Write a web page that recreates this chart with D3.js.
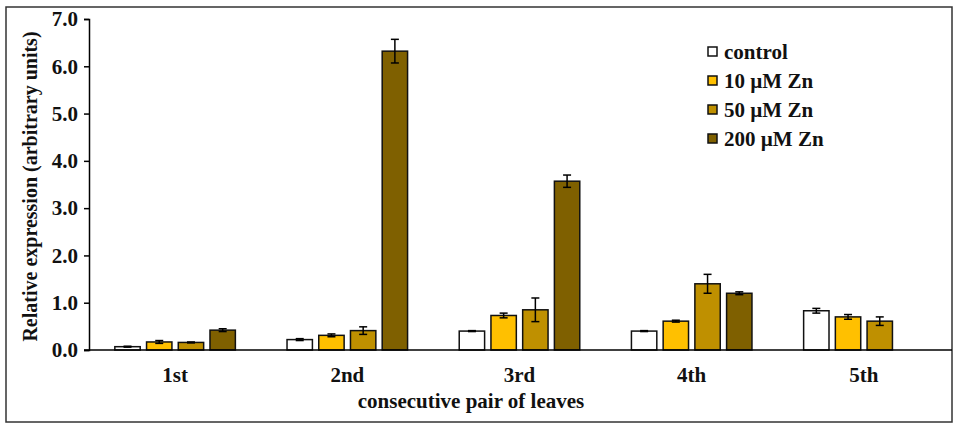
<!DOCTYPE html>
<html>
<head>
<meta charset="utf-8">
<style>
    body { margin: 0; background: #fff; }
    svg text { font-family: "Liberation Serif", "Times New Roman", serif; font-weight: bold; fill: #111; }
</style>
</head>
<body>
    <div class="graph"></div>

    <script src="https://d3js.org/d3.v7.min.js"></script>
    <script>
        // data
        var categories = ['1st', '2nd', '3rd', '4th', '5th']
        var series = ['control', '10 µM Zn', '50 µM Zn', '200 µM Zn']
        var colors = ['#ffffff', '#ffc000', '#bf9000', '#7f6000']

        var control = [0.07, 0.22, 0.40, 0.40, 0.83]
        var zn10 = [0.17, 0.31, 0.73, 0.61, 0.70]
        var zn50 = [0.16, 0.41, 0.85, 1.40, 0.61]
        var zn200 = [0.42, 6.32, 3.57, 1.20, null]

        var controlErr = [0.01, 0.02, 0.01, 0.01, 0.05]
        var zn10Err = [0.03, 0.03, 0.05, 0.02, 0.05]
        var zn50Err = [0.01, 0.08, 0.25, 0.20, 0.09]
        var zn200Err = [0.03, 0.25, 0.13, 0.03, null]

        var yTicks = [0, 1, 2, 3, 4, 5, 6, 7]

        var values = [control, zn10, zn50, zn200]
        var errors = [controlErr, zn10Err, zn50Err, zn200Err]

        var width = 957,
            height = 428

        var svg = d3.select('.graph').append('svg')
            .attr('width', width)
            .attr('height', height)

        // outer frame
        svg.append('rect')
            .attr('x', 6).attr('y', 7)
            .attr('width', 946).attr('height', 415)
            .style('fill', 'none')
            .style('stroke', '#333')
            .style('stroke-width', 1.5)

        var x0 = d3.scaleBand()
            .domain(categories)
            .range([89, 950])
            .paddingInner(0.3)
            .paddingOuter(0.15)

        var x1 = d3.scaleBand()
            .domain(series)
            .range([0, x0.bandwidth()])
            .paddingInner(0.2)

        var y = d3.scaleLinear()
            .domain([0, 7])
            .range([350, 19])

        var bars = []
        categories.forEach(function (c, i) {
            series.forEach(function (s, j) {
                if (values[j][i] == null) return
                bars.push({ cat: c, key: s, idx: j, v: values[j][i], e: errors[j][i] })
            })
        })

        // y axis
        var y_axis = svg.append('g')
            .attr('transform', 'translate(89,0)')
            .call(d3.axisLeft(y).tickValues(yTicks).tickSize(5).tickPadding(6)
                .tickFormat(d3.format('.1f')))
        y_axis.select('.domain').style('stroke', '#000').style('stroke-width', 1.5)
        y_axis.selectAll('.tick line').style('stroke', '#000').style('stroke-width', 1.5)
        y_axis.selectAll('text').style('font-size', '21px').style('fill', '#111')

        // bars
        svg.append('g').selectAll('rect')
            .data(bars)
            .join('rect')
            .attr('x', function (d) { return x0(d.cat) + x1(d.key) })
            .attr('y', function (d) { return y(d.v) })
            .attr('width', x1.bandwidth())
            .attr('height', function (d) { return y(0) - y(d.v) })
            .style('fill', function (d) { return colors[d.idx] })
            .style('stroke', '#111')
            .style('stroke-width', 1.5)

        // error bars
        var err = svg.append('g').selectAll('g')
            .data(bars)
            .join('g')
            .attr('transform', function (d) {
                return 'translate(' + (x0(d.cat) + x1(d.key) + x1.bandwidth() / 2) + ',0)'
            })
            .style('stroke', '#000')
            .style('stroke-width', 1.5)
        err.append('line')
            .attr('y1', function (d) { return y(d.v + d.e) })
            .attr('y2', function (d) { return y(d.v - d.e) })
        err.append('line')
            .attr('x1', -4).attr('x2', 4)
            .attr('y1', function (d) { return y(d.v + d.e) })
            .attr('y2', function (d) { return y(d.v + d.e) })
        err.append('line')
            .attr('x1', -4).attr('x2', 4)
            .attr('y1', function (d) { return y(d.v - d.e) })
            .attr('y2', function (d) { return y(d.v - d.e) })

        // x axis
        var x_axis = svg.append('g')
            .attr('transform', 'translate(0,' + y(0) + ')')
            .call(d3.axisBottom(x0).tickSize(0).tickPadding(17))
        x_axis.select('.domain').attr('d', 'M84,0H952').style('stroke', '#000').style('stroke-width', 1.5)
        x_axis.selectAll('text').style('font-size', '21px').style('fill', '#111')

        // axis titles
        svg.append('text')
            .attr('transform', 'translate(37,' + (y(3.5) + 2) + ') rotate(-90)')
            .attr('text-anchor', 'middle')
            .style('font-size', '20px')
            .text('Relative expression (arbitrary units)')

        svg.append('text')
            .attr('x', 471)
            .attr('y', 408)
            .attr('text-anchor', 'middle')
            .style('font-size', '21px')
            .text('consecutive pair of leaves')

        // legend
        var legend = svg.append('g')
            .selectAll('g')
            .data(series)
            .join('g')
            .attr('transform', function (d, i) { return 'translate(708,' + (52 + i * 29) + ')' })
        legend.append('rect')
            .attr('x', 0).attr('y', -5)
            .attr('width', 9).attr('height', 9)
            .style('fill', function (d, i) { return colors[i] })
            .style('stroke', '#111')
            .style('stroke-width', 1.5)
        legend.append('text')
            .attr('x', 16)
            .attr('y', 7)
            .style('font-size', '21px')
            .text(function (d) { return d })
    </script>
</body>
</html>
